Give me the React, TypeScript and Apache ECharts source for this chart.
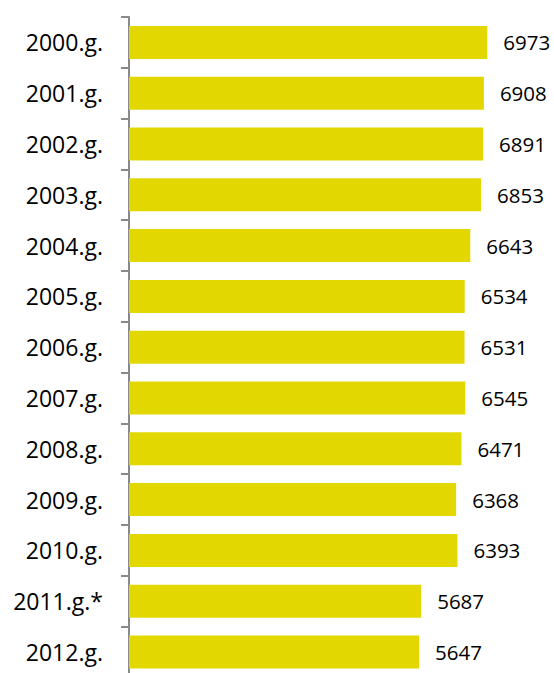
import React, { useEffect, useRef } from "react";
import * as echarts from "echarts";

const categories = [
  "2000.g.", "2001.g.", "2002.g.", "2003.g.", "2004.g.", "2005.g.", "2006.g.",
  "2007.g.", "2008.g.", "2009.g.", "2010.g.", "2011.g.*", "2012.g.",
];
const values = [6973, 6908, 6891, 6853, 6643, 6534, 6531, 6545, 6471, 6368, 6393, 5687, 5647];

export default function App() {
  const ref = useRef<HTMLDivElement>(null);
  useEffect(() => {
    if (!ref.current) return;
    const chart = echarts.init(ref.current, null, { renderer: "svg" });
    chart.setOption({
      animation: false,
      backgroundColor: "#ffffff",
      grid: { left: 129, top: 17, width: 411, height: 660.4, containLabel: false },
      xAxis: {
        type: "value",
        min: 0,
        max: 8000,
        show: false,
      },
      yAxis: {
        type: "category",
        inverse: true,
        data: categories,
        axisLine: { show: true, lineStyle: { color: "#898989", width: 2 } },
        axisTick: { show: true, length: 8, lineStyle: { color: "#898989", width: 2 } },
        axisLabel: {
          margin: 26,
          color: "#000000",
          fontFamily: "Open Sans",
          fontSize: 23,
        },
        splitLine: { show: false },
      },
      series: [
        {
          type: "bar",
          data: values,
          barWidth: 33,
          itemStyle: { color: "#E2D800" },
          label: {
            show: true,
            position: "right",
            distance: 16,
            color: "#000000",
            fontFamily: "Open Sans",
            fontSize: 20.5,
          },
        },
      ],
    });
    return () => chart.dispose();
  }, []);
  return (
    <div
      ref={ref}
      style={{ position: "fixed", left: 0, top: 0, width: 554, height: 700 }}
    />
  );
}
